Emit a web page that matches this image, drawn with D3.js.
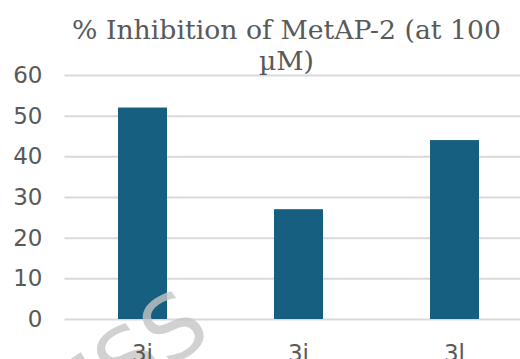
<!DOCTYPE html>
<html>
<head>
<meta charset="utf-8">
<script src="https://cdn.jsdelivr.net/npm/d3@7"></script>
<style>
  html, body { margin: 0; padding: 0; background: #fff; overflow: hidden; }
</style>
</head>
<body>
<svg id="chart" width="520" height="359"></svg>
<script>
// Compounds and their % inhibition of MetAP-2 at 100 µM
const compounds = ["3i", "3j", "3l"];
const inhibition = [52, 27, 44];
const yTicks = [0, 10, 20, 30, 40, 50, 60];
const titleLines = ["% Inhibition of MetAP-2 (at 100", "µM)"];

const svg = d3.select("#chart");
const plot = { left: 64.5, right: 532.5, top: 75, bottom: 319 };

const x = d3.scaleBand().domain(compounds).range([plot.left, plot.right]).paddingInner(0.686).paddingOuter(0.343);
const y = d3.scaleLinear().domain([0, 60]).range([plot.bottom, plot.top]);

// horizontal gridlines with value labels
const yAxis = d3.axisLeft(y).tickValues(yTicks).tickSize(-(plot.right - plot.left)).tickPadding(22);
const gy = svg.append("g").attr("transform", `translate(${plot.left},0)`).call(yAxis);
gy.select(".domain").remove();
gy.selectAll(".tick line").attr("stroke", "#d9d9d9").attr("stroke-width", 2);
gy.selectAll(".tick text")
  .attr("fill", "#595959")
  .style("font-family", "'DejaVu Sans', sans-serif")
  .style("font-size", "23px");

// bars
svg.append("g").selectAll("rect")
  .data(compounds)
  .join("rect")
  .attr("x", d => x(d))
  .attr("width", x.bandwidth())
  .attr("y", (d, i) => y(inhibition[i]))
  .attr("height", (d, i) => y(0) - y(inhibition[i]))
  .attr("fill", "#165f80");

// faint publisher stamp across the lower left
svg.append("text")
  .attr("transform", "translate(214,337) rotate(-35)")
  .attr("text-anchor", "end")
  .attr("fill", "#c6c6c6")
  .attr("fill-opacity", 0.8)
  .style("font-family", "'DejaVu Sans', sans-serif")
  .style("font-size", "88px")
  .text("ACCESS");

// category labels
const xAxis = d3.axisBottom(x).tickSize(0).tickPadding(26);
const gx = svg.append("g").attr("transform", `translate(0,${plot.bottom})`).call(xAxis);
gx.select(".domain").remove();
gx.selectAll(".tick text")
  .attr("fill", "#595959")
  .style("font-family", "'DejaVu Sans', sans-serif")
  .style("font-size", "23px");

// title
svg.append("text")
  .attr("x", 286.5).attr("y", 39)
  .attr("text-anchor", "middle")
  .attr("fill", "#595959")
  .style("font-family", "'DejaVu Serif', serif")
  .style("font-size", "26.7px")
  .selectAll("tspan")
  .data(titleLines)
  .join("tspan")
  .attr("x", 286.5)
  .attr("dy", (d, i) => i === 0 ? 0 : 31)
  .text(d => d);
</script>
</body>
</html>
